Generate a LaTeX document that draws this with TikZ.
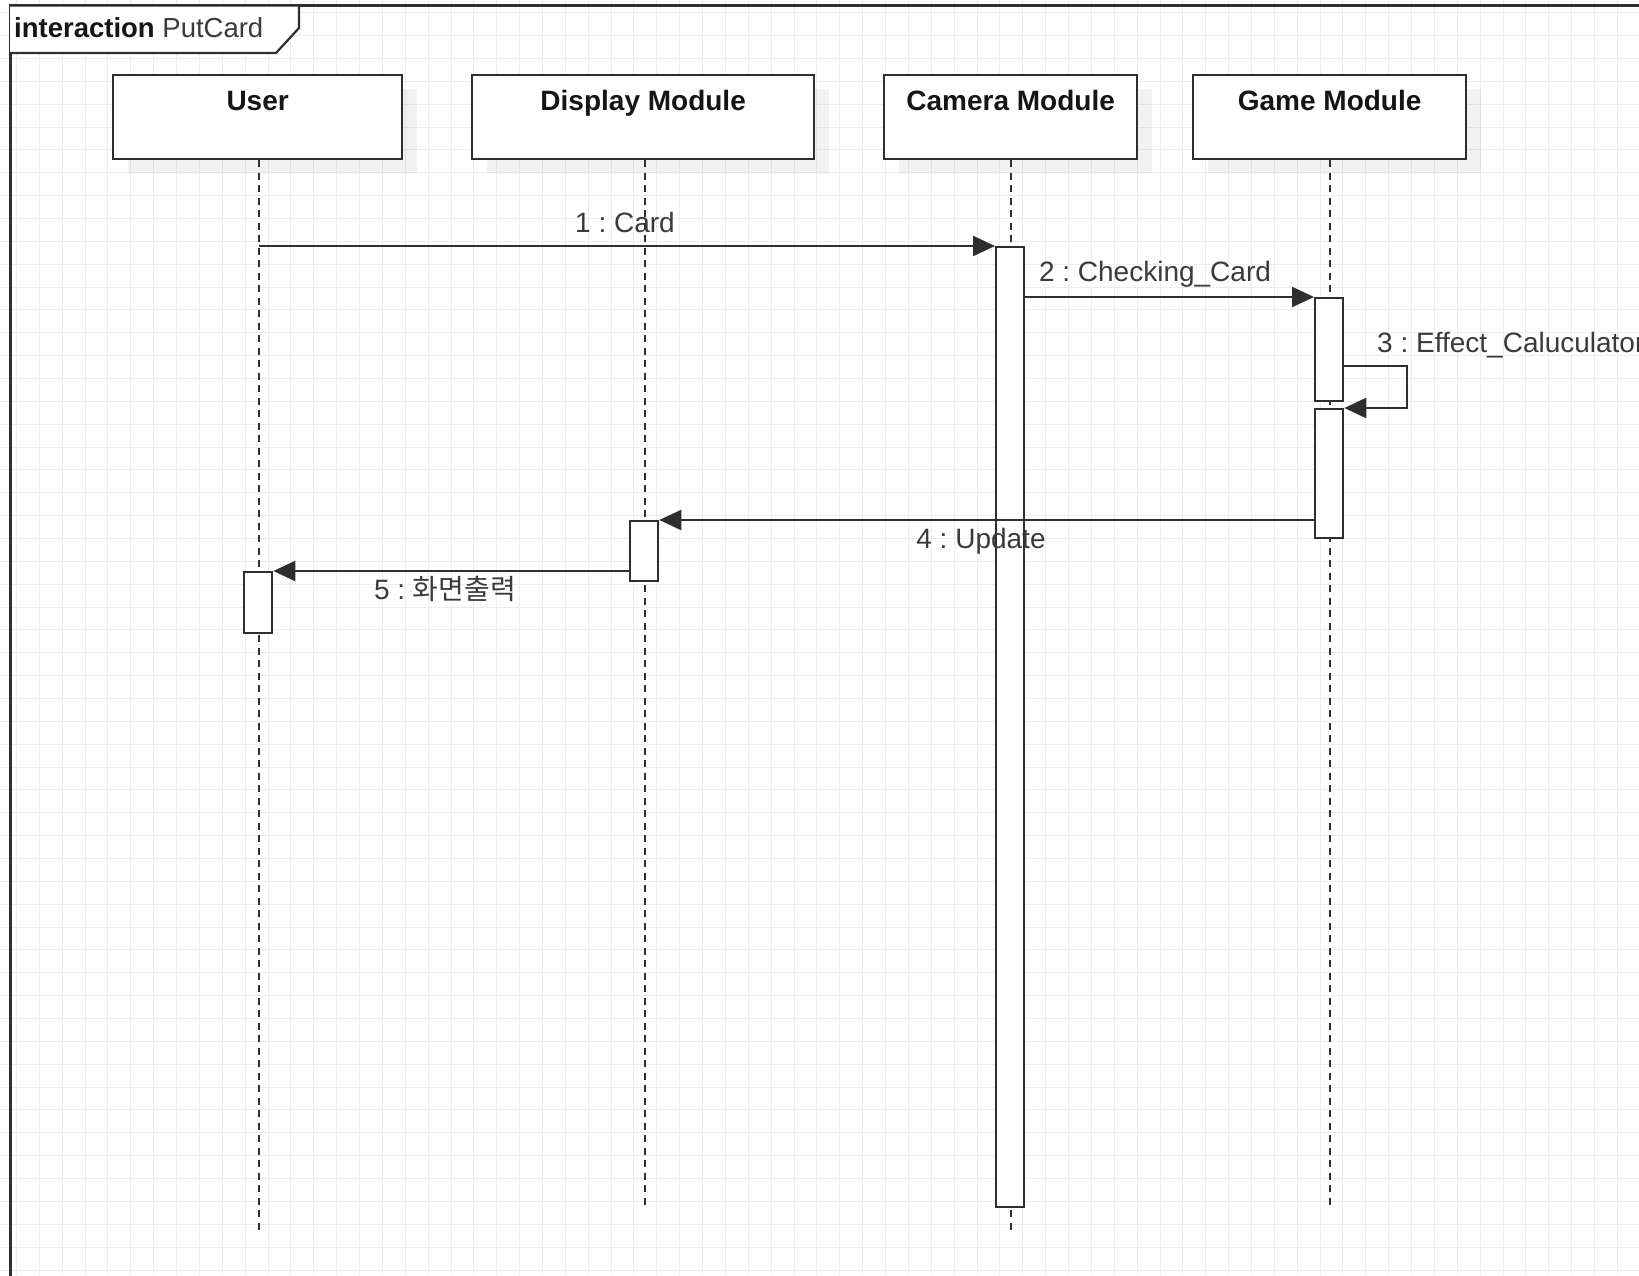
\documentclass[tikz,border=0pt]{standalone}
\usepackage{fontspec}
\setmainfont{Liberation Sans}
\newfontfamily\krfont{Noto Sans CJK KR}
\usetikzlibrary{arrows.meta,shadows}
\definecolor{ink}{HTML}{2E2E2E}
\definecolor{labelink}{HTML}{3A3A3A}
\definecolor{headink}{HTML}{151515}
\definecolor{gridc}{HTML}{EDEDED}
\frenchspacing
\begin{document}
\begin{tikzpicture}[x=1pt,y=-1pt,
  gridline/.style={draw=gridc,line width=1pt},
  frameline/.style={draw=ink,line width=3pt},
  tabline/.style={draw=ink,line width=2.2pt,fill=white},
  lifebox/.style={rectangle,draw=ink,line width=2.3pt,fill=white,inner sep=0pt,
    anchor=north west,
    drop shadow={shadow xshift=15pt,shadow yshift=-14pt,fill=black,opacity=0.05}},
  headtxt/.style={font=\fontsize{28}{32}\selectfont\bfseries,text=headink,anchor=base,inner sep=0pt},
  lifeline/.style={draw=ink,line width=2.5pt,dash pattern=on 7pt off 5.5pt},
  actbox/.style={rectangle,draw=ink,line width=2.3pt,fill=white,inner sep=0pt,
    anchor=north west,minimum width=28pt},
  msg/.style={draw=ink,line width=2.3pt,-{Triangle[length=22pt,width=20pt]}},
  msglbl/.style={font=\fontsize{28}{32}\selectfont,text=labelink,inner sep=0pt}
]
\useasboundingbox (0,0) rectangle (1639,1275);
\clip (0,0) rectangle (1639,1275);

% background grid
\foreach \i in {0,...,72}
  \draw[gridline] ({16.5+22.87*\i},0) -- ({16.5+22.87*\i},1275);
\foreach \j in {0,...,56}
  \draw[gridline] (0,{12.7+22.86*\j}) -- (1639,{12.7+22.86*\j});

% interaction frame and its name tab
\draw[frameline] (10,1290) -- (10,5.5) -- (1660,5.5);
\draw[tabline] (10,5.5) -- (299,5.5) -- (299,28) -- (276,53) -- (10,53);
\node[anchor=base west,inner sep=0pt,font=\fontsize{27.5}{32}\selectfont,text=headink] (title)
  at (14,37) {\textbf{interaction} {\color{labelink}PutCard}};

% lifeline heads
\node[lifebox,minimum width=289pt,minimum height=84pt] (user)    at (112,74) {};
\node[lifebox,minimum width=342pt,minimum height=84pt] (display) at (471,74) {};
\node[lifebox,minimum width=253pt,minimum height=84pt] (camera)  at (883,74) {};
\node[lifebox,minimum width=273pt,minimum height=84pt] (game)    at (1192,74) {};
\node[headtxt] (userT)    at ([yshift=-36pt]user.north)    {User};
\node[headtxt] (displayT) at ([yshift=-36pt]display.north) {Display Module};
\node[headtxt] (cameraT)  at ([yshift=-36pt]camera.north)  {Camera Module};
\node[headtxt] (gameT)    at ([yshift=-36pt]game.north)    {Game Module};

% lifelines
\coordinate (userTop) at (259,160);   \coordinate (userEnd) at (259,1233);
\coordinate (dispTop) at (645,160);   \coordinate (dispEnd) at (645,1205);
\coordinate (camTop)  at (1011,160);  \coordinate (camEnd)  at (1011,1233);
\coordinate (gameTop) at (1330,160);  \coordinate (gameEnd) at (1330,1205);
\draw[lifeline] (userTop) -- (userEnd);
\draw[lifeline] (dispTop) -- (dispEnd);
\draw[lifeline] (camTop) -- (camEnd);
\draw[lifeline] (gameTop) -- (gameEnd);

% activation bars
\node[actbox,minimum height=960pt] (camA)   at (995,246) {};
\node[actbox,minimum height=103pt] (gameA1) at (1314,297) {};
\node[actbox,minimum height=129pt] (gameA2) at (1314,408) {};
\node[actbox,minimum height=60pt]  (dispA)  at (629,520) {};
\node[actbox,minimum height=61pt]  (userA)  at (243,571) {};

% messages
\coordinate (m1s) at (259,246);
\draw[msg] (m1s) -- (camA.north west);
\draw[msg] (camA.east |- gameA1.north west) -- (gameA1.north west);
\coordinate (m3s) at (1342,366);
\draw[msg] (m3s) -- ++(65,0) |- (gameA2.north east);
\draw[msg] (gameA2.west |- dispA.north east) -- (dispA.north east);
\draw[msg] (dispA.west |- userA.north east) -- (userA.north east);

% message labels
\node[msglbl,anchor=base] (l1) at (625,232) {1 : Card};
\node[msglbl,anchor=base] (l2) at (1155,281) {2 : Checking\_Card};
\node[msglbl,anchor=base west] (l3) at (1377,352) {3 : Effect\_Caluculator};
\node[msglbl,anchor=base] (l4) at (981,548) {4 : Update};
\node[msglbl,anchor=base] (l5) at (445,599) {5 : {\krfont 화면출력}};
\end{tikzpicture}
\end{document}
